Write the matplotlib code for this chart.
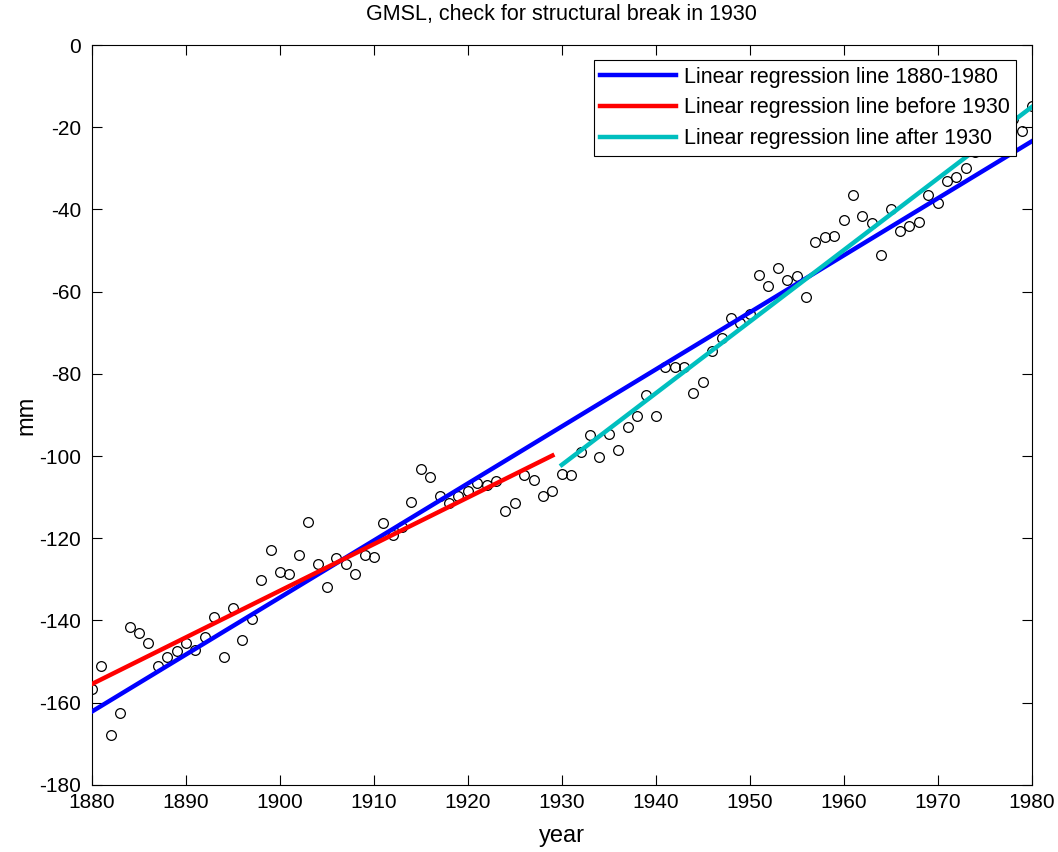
import numpy as np
import matplotlib
matplotlib.use("Agg")
import matplotlib.pyplot as plt

plt.rcParams['font.family'] = ['Liberation Sans', 'DejaVu Sans']
plt.rcParams['axes.unicode_minus'] = False

# yearly GMSL values (mm)
years = np.arange(1880, 1981)
gmsl = [
    -156.6, -151.0, -167.8, -162.5, -141.7, -143.1, -145.6, -151.2, -149.0, -147.5,  # 1880s
    -145.6, -147.1, -144.1, -139.3, -149.0, -137.1, -144.9, -139.7, -130.1, -122.8,  # 1890s
    -128.3, -128.7, -124.0, -116.0, -126.2, -131.8, -124.9, -126.2, -128.8, -124.2,  # 1900s
    -124.5, -116.3, -119.3, -117.4, -111.1, -103.2, -105.2, -109.7, -111.4, -109.7,  # 1910s
    -108.4, -106.5, -107.0, -106.1, -113.3, -111.4, -104.7, -105.9, -109.8, -108.4,  # 1920s
    -104.5, -104.7, -99.0, -94.9, -100.3, -94.7, -98.6, -93.0, -90.3, -85.2,        # 1930s
    -90.3, -78.4, -78.4, -78.4, -84.7, -81.9, -74.4, -71.2, -66.3, -67.7,           # 1940s
    -65.5, -56.0, -58.6, -54.3, -57.2, -56.2, -61.3, -47.8, -46.7, -46.5,           # 1950s
    -42.5, -36.4, -41.5, -43.2, -51.1, -39.8, -45.3, -44.0, -43.1, -36.4,           # 1960s
    -38.4, -33.0, -32.0, -30.0, -26.0, -24.0, -20.0, -22.0, -18.0, -21.0,           # 1970s
    -14.8,                                                                          # 1980
]
gmsl = np.array(gmsl)
break_year = 1930

fig = plt.figure(figsize=(10.58, 8.52), dpi=100)
ax = fig.add_axes([0.087, 0.079, 0.888, 0.868])

ax.plot(years, gmsl, 'o', mfc='none', mec='k', ms=7, mew=0.9, zorder=2)

# regression lines
p_all = np.polyfit(years, gmsl, 1)
before = years < break_year
after = years >= break_year
p_before = np.polyfit(years[before], gmsl[before], 1)
p_after = np.polyfit(years[after], gmsl[after], 1)

ax.plot(years, np.polyval(p_all, years), color='b', lw=3.2,
        label='Linear regression line 1880-1980', zorder=3)
ax.plot(years[before], np.polyval(p_before, years[before]), color='r', lw=3.2,
        label='Linear regression line before 1930', zorder=3)
ax.plot(years[after], np.polyval(p_after, years[after]), color='c', lw=3.2,
        label='Linear regression line after 1930', zorder=4)

ax.set_xlim(1880, 1980)
ax.set_ylim(-180, 0)
ax.set_xticks(np.arange(1880, 1981, 10))
ax.set_yticks(np.arange(-180, 1, 20))
ax.tick_params(direction='in', top=True, right=True, labelsize=15, length=7)
ax.tick_params(axis='x', pad=6)
ax.tick_params(axis='y', pad=8)
ax.set_xlabel('year', fontsize=17, labelpad=9)
ax.set_ylabel('mm', fontsize=17, labelpad=1)
ax.set_title('GMSL, check for structural break in 1930', fontsize=15.5, pad=18)

leg = ax.legend(loc='upper right', fontsize=15.5, handlelength=3.5, handletextpad=0.4,
                fancybox=False, framealpha=1, edgecolor='k', borderaxespad=0.7,
                borderpad=0.3, labelspacing=0.45)
leg.get_frame().set_linewidth(0.8)

fig.savefig('out.png', dpi=100)
